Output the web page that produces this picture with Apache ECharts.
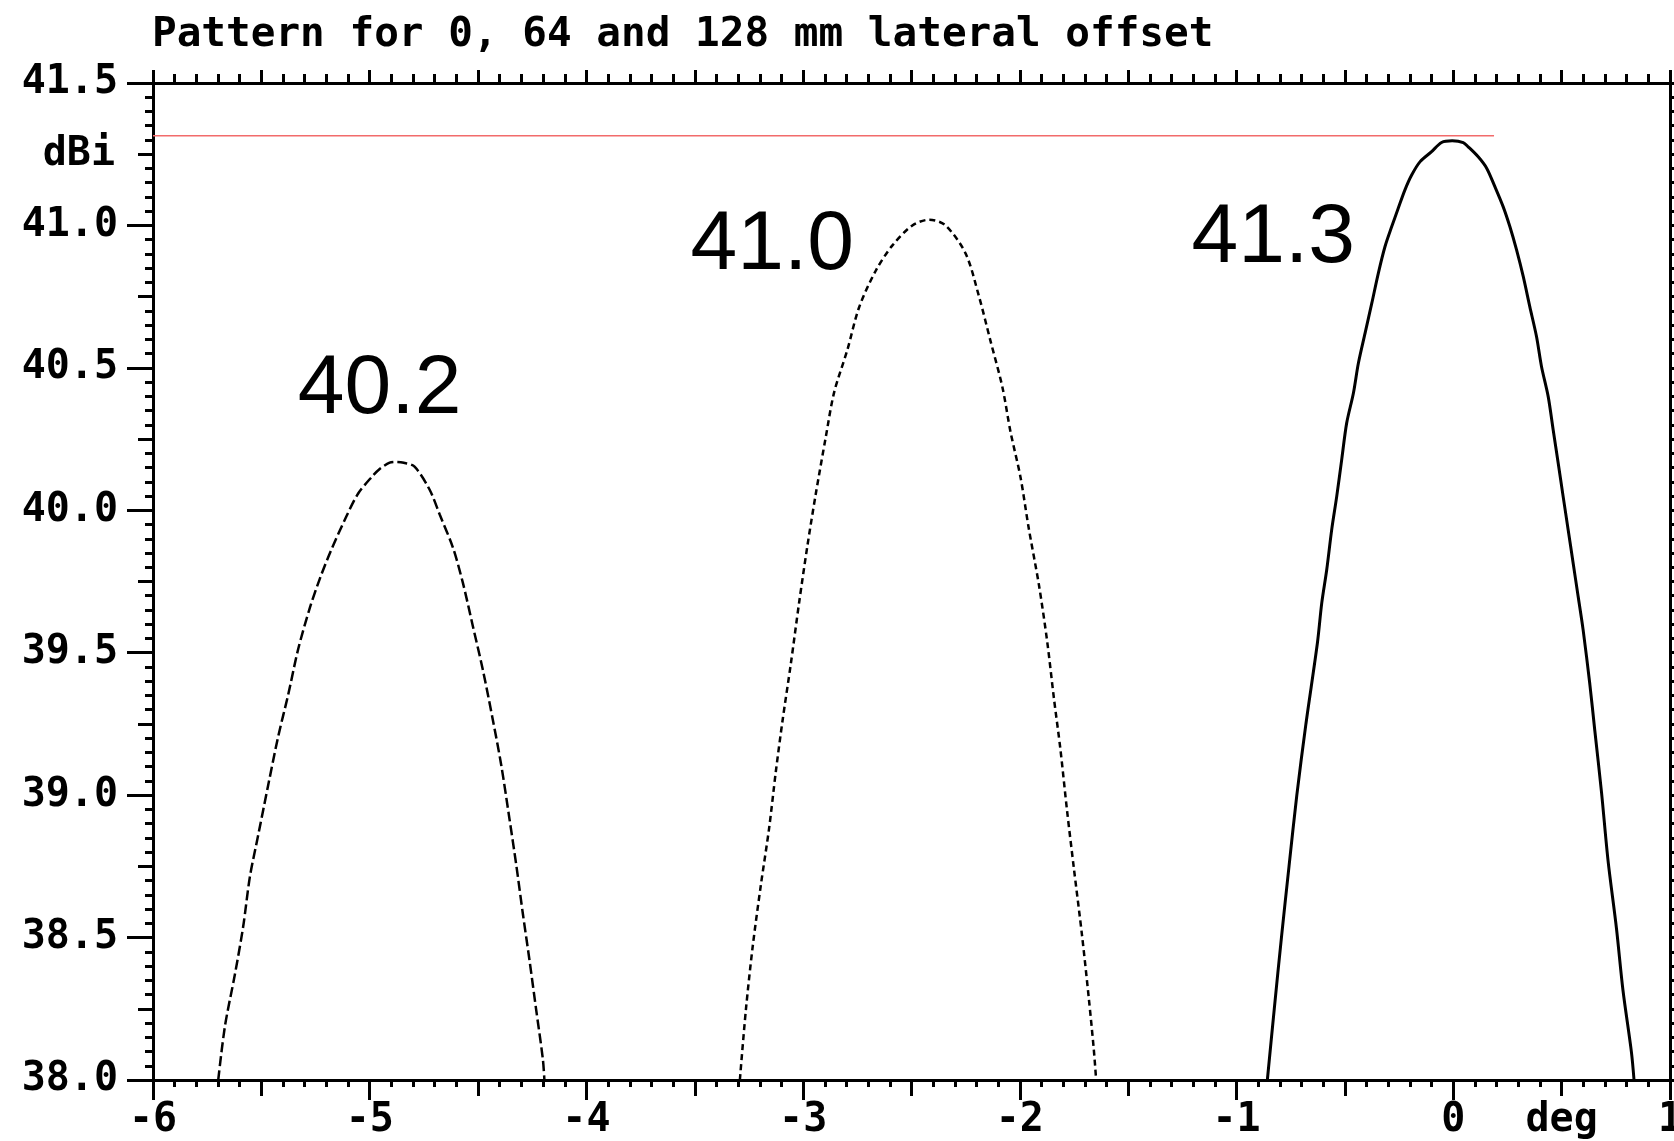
<!DOCTYPE html>
<html>
<head>
<meta charset="utf-8">
<title>Pattern for 0, 64 and 128 mm lateral offset</title>
<script src="https://cdn.jsdelivr.net/npm/echarts@6/dist/echarts.min.js"></script>
<style>
  html, body { margin: 0; padding: 0; background: #fff; }
  #chart { width: 1674px; height: 1141px; }
</style>
</head>
<body>
<div id="chart"></div>
<script>
// gain (dBi) against pointing angle (deg)
const offset128 = [
  [-5.699, 38.000], [-5.668, 38.189], [-5.622, 38.371], [-5.584, 38.538], [-5.553, 38.713],
  [-5.515, 38.858], [-5.469, 39.033], [-5.422, 39.207], [-5.376, 39.353], [-5.330, 39.513],
  [-5.276, 39.658], [-5.230, 39.760], [-5.177, 39.862], [-5.108, 39.978], [-5.054, 40.058],
  [-4.992, 40.116], [-4.954, 40.145], [-4.908, 40.167], [-4.877, 40.170], [-4.843, 40.167],
  [-4.793, 40.153], [-4.724, 40.073], [-4.677, 39.985], [-4.616, 39.869], [-4.570, 39.745],
  [-4.524, 39.593], [-4.478, 39.440], [-4.432, 39.265], [-4.393, 39.105], [-4.355, 38.916],
  [-4.324, 38.756], [-4.293, 38.582], [-4.263, 38.422], [-4.232, 38.247], [-4.201, 38.073],
  [-4.194, 38.000]
]
const offset64 = [
  [-3.292, 38.000], [-3.264, 38.248], [-3.233, 38.467], [-3.195, 38.685], [-3.157, 38.884],
  [-3.126, 39.083], [-3.095, 39.262], [-3.057, 39.460], [-3.018, 39.679], [-2.980, 39.877],
  [-2.942, 40.056], [-2.896, 40.255], [-2.857, 40.414], [-2.796, 40.563], [-2.742, 40.712],
  [-2.665, 40.841], [-2.588, 40.930], [-2.496, 41.000], [-2.419, 41.020], [-2.343, 41.000],
  [-2.250, 40.901], [-2.189, 40.752], [-2.135, 40.593], [-2.081, 40.434], [-2.043, 40.275],
  [-1.997, 40.116], [-1.959, 39.937], [-1.912, 39.738], [-1.874, 39.540], [-1.843, 39.341],
  [-1.813, 39.162], [-1.782, 38.944], [-1.751, 38.745], [-1.713, 38.507], [-1.682, 38.288],
  [-1.659, 38.109], [-1.648, 38.000]
]
const offset0 = [
  [-0.858, 38.000], [-0.826, 38.250], [-0.793, 38.500], [-0.758, 38.750], [-0.722, 39.000],
  [-0.680, 39.250], [-0.627, 39.534], [-0.607, 39.674], [-0.584, 39.791], [-0.561, 39.932],
  [-0.538, 40.048], [-0.515, 40.177], [-0.492, 40.306], [-0.461, 40.411], [-0.438, 40.516],
  [-0.407, 40.622], [-0.376, 40.727], [-0.346, 40.832], [-0.315, 40.926], [-0.284, 40.996],
  [-0.254, 41.060], [-0.223, 41.125], [-0.192, 41.177], [-0.153, 41.224], [-0.100, 41.259],
  [-0.054, 41.291], [-0.005, 41.297], [0.046, 41.291], [0.069, 41.276], [0.115, 41.241],
  [0.154, 41.201], [0.192, 41.136], [0.230, 41.066], [0.261, 40.996], [0.292, 40.914],
  [0.323, 40.820], [0.353, 40.715], [0.384, 40.610], [0.407, 40.505], [0.438, 40.399],
  [0.461, 40.282], [0.484, 40.166], [0.507, 40.048], [0.530, 39.932], [0.553, 39.815],
  [0.576, 39.698], [0.599, 39.581], [0.630, 39.390], [0.653, 39.227], [0.684, 39.010],
  [0.714, 38.771], [0.753, 38.532], [0.783, 38.315], [0.822, 38.098], [0.834, 38.000]
]
const peakLine = [[-6, 41.315], [0.188, 41.315]]
const peakTexts = ['40.2', '41.0', '41.3']
const peakTextAt = [[-4.952, 40.42], [-3.140, 40.927], [-0.828, 40.951]]

const xRange = { min: -6, max: 1 }
const yRange = { min: 38, max: 41.5 }
const yUnit = 'dBi'
const xUnit = 'deg'

const mono = '"DejaVu Sans Mono", monospace'
const black = '#000'
const stroke = { color: black, width: 3 }

const chart = echarts.init(document.getElementById('chart'))

function near(a, b) { return Math.abs(a - b) < 1e-6 }

const option = {
  animation: false,
  backgroundColor: '#fff',
  title: {
    text: 'Pattern for 0, 64 and 128 mm lateral offset',
    left: 147, top: 10,
    textStyle: { fontFamily: mono, fontWeight: 'bold', fontSize: 41, color: black }
  },
  grid: { left: 153, right: 4, top: 83, bottom: 61, outerBoundsMode: 'none', containLabel: false },
  xAxis: [
    {
      type: 'value', position: 'bottom', ...xRange, interval: 1,
      axisLine: { onZero: false, lineStyle: stroke },
      axisTick: { length: 20, lineStyle: stroke },
      minorTick: { show: true, splitNumber: 10, length: 7, lineStyle: stroke },
      splitLine: { show: false },
      axisLabel: {
        margin: 21, showMinLabel: true, showMaxLabel: true,
        fontFamily: mono, fontWeight: 'bold', fontSize: 40, color: black,
        formatter: v => String(v)
      }
    },
    {
      type: 'value', position: 'bottom', ...xRange, interval: 0.5,
      axisLine: { show: false, onZero: false },
      axisTick: { length: 16, lineStyle: stroke },
      splitLine: { show: false },
      axisLabel: {
        margin: 21, fontFamily: mono, fontWeight: 'bold', fontSize: 40, color: black,
        formatter: v => near(v, 0.5) ? xUnit : ''
      }
    },
    {
      type: 'value', position: 'top', ...xRange, interval: 0.5,
      axisLine: { onZero: false, lineStyle: stroke },
      axisTick: { length: 13, lineStyle: stroke },
      minorTick: { show: true, splitNumber: 5, length: 9, lineStyle: stroke },
      splitLine: { show: false },
      axisLabel: { show: false }
    }
  ],
  yAxis: [
    {
      type: 'value', position: 'left', ...yRange, interval: 0.5,
      axisLine: { onZero: false, lineStyle: stroke },
      axisTick: { length: 26, lineStyle: stroke },
      minorTick: { show: true, splitNumber: 10, length: 8, lineStyle: stroke },
      splitLine: { show: false },
      axisLabel: {
        margin: 35, showMinLabel: true, showMaxLabel: true,
        fontFamily: mono, fontWeight: 'bold', fontSize: 40, color: black,
        formatter: v => v.toFixed(1)
      }
    },
    {
      type: 'value', position: 'left', ...yRange, interval: 0.25,
      axisLine: { show: false, onZero: false },
      axisTick: { length: 15, lineStyle: stroke },
      splitLine: { show: false },
      axisLabel: {
        margin: 38, fontFamily: mono, fontWeight: 'bold', fontSize: 40, color: black,
        padding: [0, 0, 10, 0],
        formatter: v => near(v, 41.25) ? yUnit : ''
      }
    },
    {
      type: 'value', position: 'right', ...yRange, interval: 0.5,
      axisLine: { onZero: false, lineStyle: stroke },
      axisTick: { length: 6, lineStyle: stroke },
      minorTick: { show: true, splitNumber: 10, length: 4, lineStyle: stroke },
      splitLine: { show: false },
      axisLabel: { show: false }
    }
  ],
  series: [
    {
      name: 'peak', type: 'line', data: peakLine, symbol: 'none',
      lineStyle: { color: '#f26b6b', width: 1.5 }
    },
    {
      name: '128 mm', type: 'line', data: offset128, symbol: 'none', smooth: 0.3,
      lineStyle: { color: black, width: 2.5, type: [10, 4] }
    },
    {
      name: '64 mm', type: 'line', data: offset64, symbol: 'none', smooth: 0.3,
      lineStyle: { color: black, width: 2.5, type: [6, 4] }
    },
    {
      name: '0 mm', type: 'line', data: offset0, symbol: 'none', smooth: 0.3,
      lineStyle: { color: black, width: 3 }
    },
    {
      name: 'peaks', type: 'scatter', silent: true, symbolSize: 1,
      itemStyle: { color: 'rgba(0,0,0,0)' },
      data: peakTextAt.map((p, i) => ({ value: p, label: { formatter: peakTexts[i] } })),
      label: {
        show: true, position: [0, 0], align: 'center', verticalAlign: 'middle',
        fontFamily: '"Liberation Sans", Arial, sans-serif', fontSize: 84,
        color: '#000', textBorderWidth: 0, opacity: 1
      }
    }
  ]
}

chart.setOption(option)
window.addEventListener('resize', () => {
  chart.resize()
})
</script>
</body>
</html>
